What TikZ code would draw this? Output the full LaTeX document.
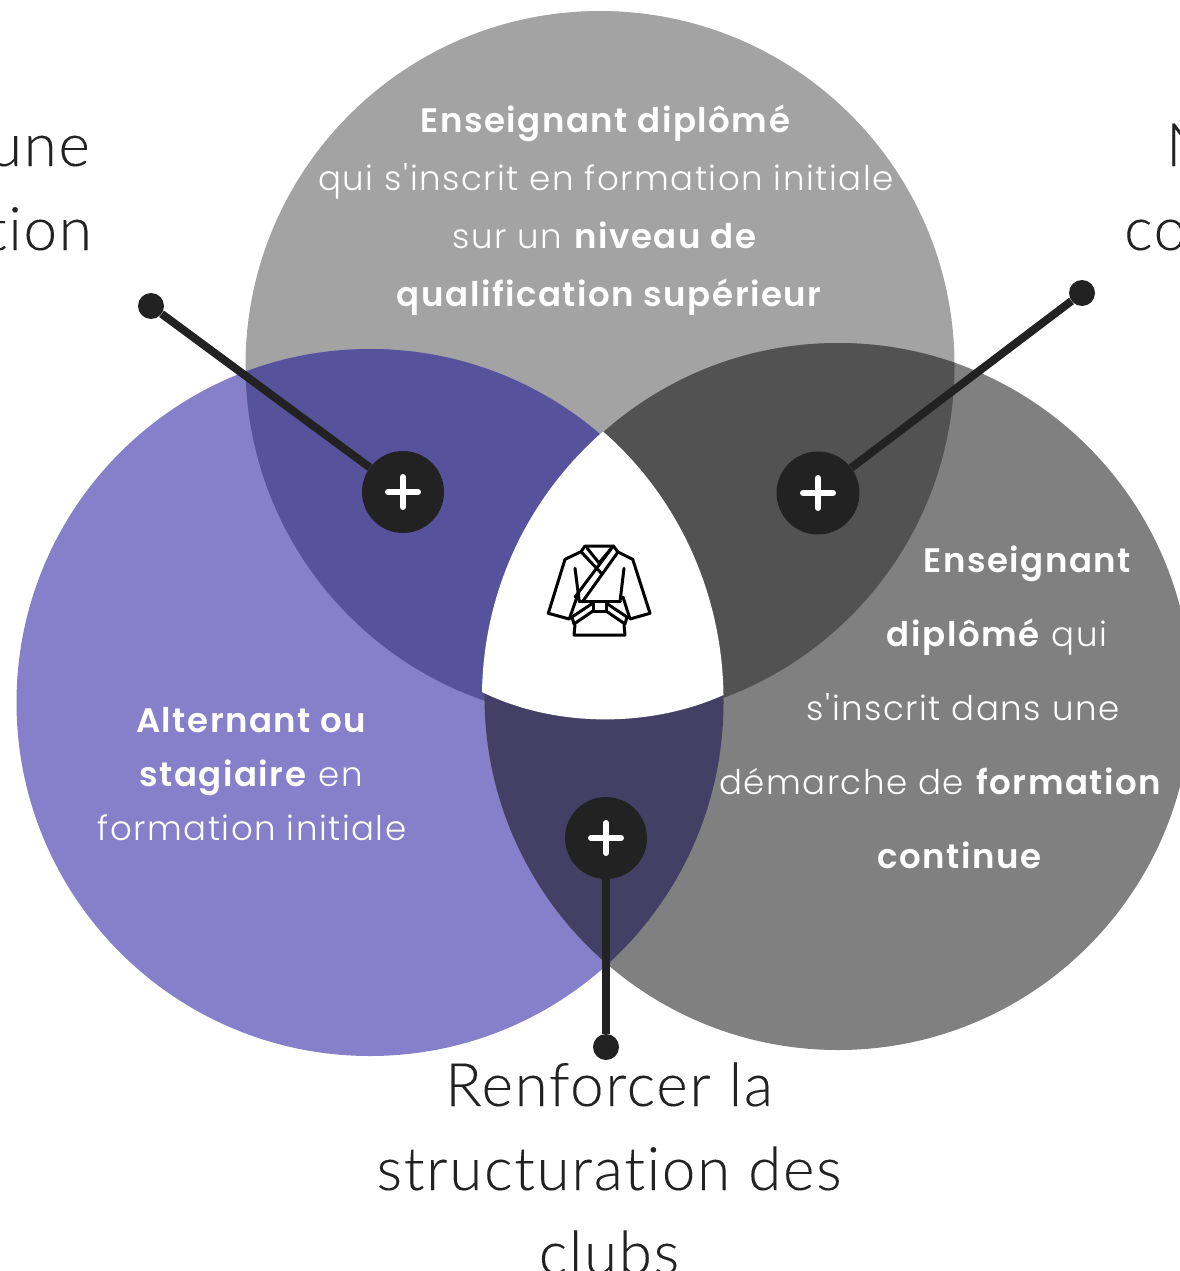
\documentclass[tikz,border=0pt]{standalone}
\usepackage{fontspec}
\setmainfont{Poppins}[UprightFont=* Light,BoldFont=* SemiBold,Ligatures=TeXOff,LetterSpace=4.5]
\newfontfamily\labelfont{Lato Light}[Ligatures={NoCommon,TeXOff},LetterSpace=3,FakeBold=0.12]
\definecolor{ctop}{HTML}{A3A3A3}
\definecolor{cleft}{HTML}{8580C9}
\definecolor{cright}{HTML}{808080}
\definecolor{ctl}{HTML}{56529B}
\definecolor{ctr}{HTML}{525252}
\definecolor{clr}{HTML}{444065}
\definecolor{ink}{HTML}{222222}
\newcommand{\circtop}{(600,365.5) circle[radius=354.5]}
\newcommand{\circleft}{(370,702.5) circle[radius=353.5]}
\newcommand{\circright}{(838,696.5) circle[radius=353.5]}
\tikzset{
  body/.style={text=white,anchor=base,inner sep=0pt,font=\fontsize{34}{38}\selectfont},
  biglabel/.style={text=ink,anchor=base,inner sep=0pt,font=\labelfont\fontsize{60}{66}\selectfont},
  plusbtn/.style={circle,fill=ink,minimum size=82pt,inner sep=0pt},
  enddot/.style={circle,fill=ink,minimum size=26pt,inner sep=0pt},
  link/.style={draw=ink,line width=8pt},
  plusbar/.style={draw=white,line width=6pt,line cap=round},
  gi/.style={draw=black,line width=3pt,line join=round,line cap=round}
}
\begin{document}
\begin{tikzpicture}[x=1pt,y=-1pt]
\useasboundingbox (0,0) rectangle (1179,1271);
\fill[ctop] \circtop;
\fill[cleft] \circleft;
\fill[cright] \circright;
\begin{scope}\clip \circtop; \fill[ctl] \circleft; \fill[ctr] \circright; \end{scope}
\begin{scope}\clip \circleft; \fill[clr] \circright; \end{scope}
\fill[white] (603,431.5) .. controls (536,490) and (484,580) .. (482,692)
  .. controls (555,728) and (650,728) .. (723.5,695)
  .. controls (722,590) and (676,495) .. (603,431.5) -- cycle;

% kimono
\draw[gi] (585,546) -- (613.3,546) -- (618,552) -- (632.7,559.3) -- (650,613.3) -- (630,619) -- (623,597);
\draw[gi] (585,546) -- (581,551.7) -- (565,559.3) -- (548.3,613.3) -- (569.3,619) -- (577,597);
\draw[gi] (575,568.3) -- (579.3,601.7);
\draw[gi] (624,568.3) -- (620,601.7);
\draw[gi] (581,551.7) -- (602,574);
\draw[gi] (587,548) -- (599,563) -- (613.3,546);
\draw[gi] (618,552) -- (583,601);
\draw[gi] (611,549) -- (575,597);
\draw[gi] (579.3,601.7) -- (620,601.7);
\draw[gi] (593,601) rectangle (606,611);
\draw[gi] (593,611) -- (574,624) -- (572,617) -- (593,603);
\draw[gi] (606,611) -- (625,624) -- (627,617) -- (606,603);
\draw[gi] (575,625) -- (574,635) -- (625,635) -- (624,625);

% texts in circles
\node[body] (t1) at (606,132) {\textbf{Enseignant diplômé}};
\node[body] (t2) at (606,190) {qui s'inscrit en formation initiale};
\node[body] (t3) at (605,248) {sur un \textbf{niveau de}};
\node[body] (t4) at (610,306) {\textbf{qualification supérieur}};
\node[body] (r1) at (1028,572) {\textbf{Enseignant}};
\node[body] (r2) at (997,646) {\textbf{diplômé} qui};
\node[body] (r3) at (963,720) {s'inscrit dans une};
\node[body] (r4) at (941,794) {démarche de \textbf{formation}};
\node[body] (r5) at (960,868) {\textbf{continue}};
\node[body] (l1) at (252,732) {\textbf{Alternant ou}};
\node[body] (l2) at (251,786) {\textbf{stagiaire} en};
\node[body] (l3) at (252,840) {formation initiale};

% outer labels
\node[biglabel,anchor=base east] (a1) at (90,166) {une};
\node[biglabel,anchor=base east] (a2) at (92,250) {tion};
\node[biglabel,anchor=base west] (b1) at (1166,166) {N};
\node[biglabel,anchor=base west] (b2) at (1124,250) {co};
\node[biglabel] (c1) at (609,1106) {Renforcer la};
\node[biglabel] (c2) at (609,1190) {structuration des};
\node[biglabel] (c3) at (609,1274) {clubs};

% connectors
\node[plusbtn] (p1) at (403,492) {};
\node[plusbtn,minimum size=83pt] (p2) at (818,493) {};
\node[plusbtn] (p3) at (606,838) {};
\node[enddot] (d1) at (151,306) {};
\node[enddot] (d2) at (1082,293) {};
\node[enddot] (d3) at (606,1047) {};
\draw[link] (d1) -- (p1);
\draw[link] (d2) -- (p2);
\draw[link] (d3) -- (p3);
\foreach \n in {p1,p2,p3}{
  \draw[plusbar] ([xshift=-15pt]\n.center) -- ([xshift=15pt]\n.center);
  \draw[plusbar] ([yshift=-15pt]\n.center) -- ([yshift=15pt]\n.center);
}
\end{tikzpicture}
\end{document}
